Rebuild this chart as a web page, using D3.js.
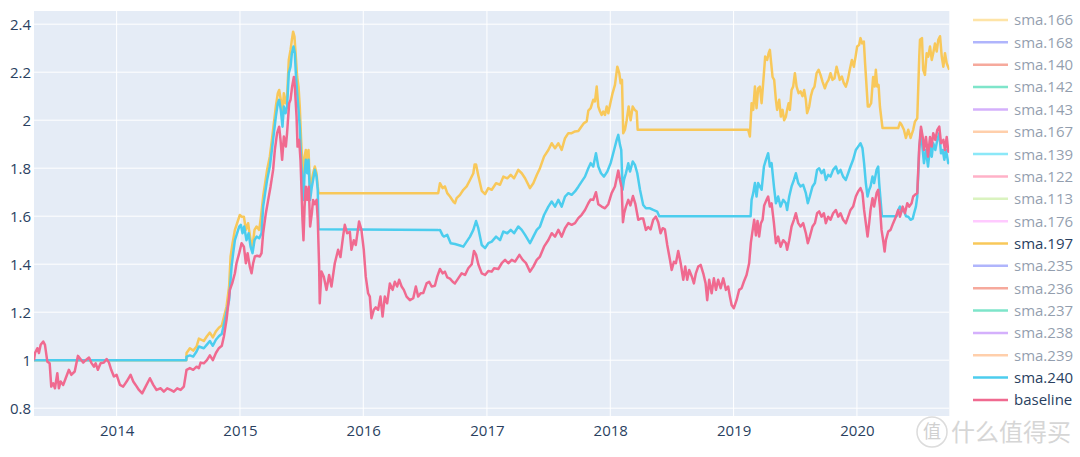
<!DOCTYPE html>
<html>
<head>
<meta charset="utf-8">
<script src="https://cdn.jsdelivr.net/npm/d3@7"></script>
<style>
  html, body { margin: 0; padding: 0; background: #ffffff; }
  svg { display: block; font-family: "Open Sans", "DejaVu Sans", Arial, sans-serif; }
</style>
</head>
<body>
<svg id="chart" width="1080" height="457"></svg>
<script>
// ---------------- DATA (time in decimal years, value = net value) ----------------
const legendNames = ["sma.166","sma.168","sma.140","sma.142","sma.143","sma.167","sma.139","sma.122","sma.113","sma.176","sma.197","sma.235","sma.236","sma.237","sma.238","sma.239","sma.240","baseline"];
const visibleNames = ["sma.197","sma.240","baseline"];
const yTickValues = [0.8,1,1.2,1.4,1.6,1.8,2,2.2,2.4];
const xTickYears = [2014,2015,2016,2017,2018,2019,2020];

const sma197 = [
[2013.330,1.000],[2014.565,1.000],[2014.567,1.03],[2014.594,1.05],[2014.621,1.04],[2014.648,1.057],[2014.667,1.09],[2014.707,1.08],
[2014.732,1.10],[2014.756,1.115],[2014.780,1.095],[2014.805,1.12],[2014.829,1.135],[2014.853,1.145],[2014.870,1.18],[2014.891,1.223],
[2014.912,1.307],[2014.924,1.432],[2014.940,1.4875],[2014.959,1.543],[2014.977,1.571],[2014.999,1.605],[2015.015,1.598],[2015.032,1.598],
[2015.048,1.543],[2015.066,1.571],[2015.086,1.50],[2015.102,1.473],[2015.118,1.543],[2015.135,1.557],[2015.156,1.543],[2015.169,1.592],
[2015.188,1.682],[2015.204,1.738],[2015.220,1.793],[2015.242,1.848],[2015.259,1.918],[2015.275,1.988],[2015.291,2.057],[2015.307,2.1125],
[2015.318,2.126],[2015.331,2.085],[2015.345,2.029],[2015.356,2.1125],[2015.370,2.071],[2015.382,2.099],[2015.396,2.251],[2015.410,2.293],
[2015.421,2.335],[2015.431,2.369],[2015.442,2.348],[2015.453,2.265],[2015.464,2.18],[2015.475,2.14],[2015.485,2.057],[2015.496,1.918],
[2015.507,1.807],[2015.515,1.751],[2015.524,1.848],[2015.534,1.876],[2015.545,1.807],[2015.556,1.876],[2015.569,1.71],[2015.583,1.751],
[2015.593,1.779],[2015.607,1.807],[2015.621,1.779],[2015.631,1.723],[2015.637,1.696],[2016.606,1.696],[2016.620,1.7375],[2016.642,1.717],
[2016.660,1.724],[2016.679,1.696],[2016.701,1.682],[2016.728,1.661],[2016.741,1.654],[2016.755,1.675],[2016.782,1.689],[2016.809,1.71],
[2016.836,1.724],[2016.863,1.751],[2016.890,1.779],[2016.900,1.815],[2016.912,1.815],[2016.930,1.77],[2016.958,1.706],[2016.985,1.692],
[2017.011,1.717],[2017.039,1.71],[2017.074,1.7375],[2017.106,1.731],[2017.133,1.765],[2017.165,1.758],[2017.193,1.772],[2017.220,1.758],
[2017.254,1.793],[2017.282,1.779],[2017.309,1.758],[2017.349,1.717],[2017.376,1.7375],[2017.404,1.772],[2017.430,1.80],[2017.463,1.848],
[2017.498,1.876],[2017.525,1.904],[2017.552,1.883],[2017.579,1.904],[2017.606,1.876],[2017.633,1.925],[2017.660,1.946],[2017.687,1.946],
[2017.714,1.953],[2017.741,1.955],[2017.768,1.975],[2017.787,1.988],[2017.809,1.995],[2017.822,2.04],[2017.841,2.05],[2017.862,2.085],
[2017.876,2.078],[2017.890,2.14],[2017.903,2.057],[2017.917,2.036],[2017.930,2.022],[2017.943,2.036],[2017.957,2.022],[2017.971,2.057],
[2017.984,2.029],[2017.998,2.064],[2018.019,2.113],[2018.038,2.147],[2018.057,2.223],[2018.073,2.196],[2018.084,2.154],[2018.095,2.168],
[2018.105,1.946],[2018.119,1.96],[2018.133,2.0],[2018.149,2.057],[2018.165,2.0],[2018.182,2.057],[2018.198,2.043],[2018.214,2.036],
[2018.222,1.96],[2019.118,1.96],[2019.132,1.932],[2019.146,2.071],[2019.159,2.043],[2019.173,2.14],[2019.186,2.05],[2019.199,2.133],
[2019.213,2.14],[2019.227,2.071],[2019.246,2.196],[2019.256,2.265],[2019.272,2.251],[2019.284,2.279],[2019.294,2.293],[2019.305,2.237],
[2019.316,2.18],[2019.329,2.168],[2019.343,2.085],[2019.353,2.043],[2019.370,2.085],[2019.383,2.015],[2019.397,2.043],[2019.410,2.0],
[2019.424,2.015],[2019.434,2.043],[2019.446,2.071],[2019.456,2.043],[2019.470,2.126],[2019.483,2.14],[2019.497,2.196],[2019.511,2.14],
[2019.527,2.1125],[2019.543,2.12],[2019.559,2.10],[2019.572,2.126],[2019.586,2.085],[2019.596,2.029],[2019.613,2.057],[2019.626,2.099],
[2019.640,2.126],[2019.656,2.14],[2019.673,2.196],[2019.689,2.21],[2019.705,2.189],[2019.721,2.161],[2019.740,2.133],[2019.754,2.154],
[2019.770,2.168],[2019.786,2.196],[2019.802,2.168],[2019.818,2.175],[2019.835,2.223],[2019.848,2.196],[2019.861,2.168],[2019.878,2.182],
[2019.894,2.154],[2019.910,2.14],[2019.926,2.168],[2019.942,2.21],[2019.959,2.251],[2019.975,2.223],[2019.989,2.265],[2020.002,2.307],
[2020.018,2.314],[2020.029,2.342],[2020.042,2.32],[2020.056,2.328],[2020.066,2.237],[2020.078,2.14],[2020.088,2.057],[2020.099,2.057],
[2020.115,2.071],[2020.131,2.18],[2020.143,2.14],[2020.153,2.21],[2020.164,2.14],[2020.175,2.147],[2020.186,2.057],[2020.199,2.0],
[2020.207,1.967],[2020.334,1.967],[2020.348,1.99],[2020.361,1.981],[2020.380,1.96],[2020.396,1.926],[2020.415,1.96],[2020.434,1.926],
[2020.455,1.96],[2020.469,1.994],[2020.488,2.008],[2020.504,2.265],[2020.510,2.335],[2020.526,2.342],[2020.536,2.21],[2020.550,2.189],
[2020.564,2.279],[2020.577,2.265],[2020.591,2.307],[2020.605,2.251],[2020.617,2.279],[2020.631,2.32],[2020.645,2.286],[2020.658,2.335],
[2020.672,2.35],[2020.686,2.265],[2020.699,2.223],[2020.712,2.279],[2020.726,2.237],[2020.747,2.21]
];

const sma240 = [
[2013.330,1.000],[2014.565,1.000],[2014.567,1.015],[2014.594,1.02],[2014.621,1.015],[2014.648,1.036],[2014.667,1.057],[2014.707,1.05],
[2014.732,1.065],[2014.756,1.08],[2014.780,1.06],[2014.805,1.085],[2014.829,1.10],[2014.853,1.11],[2014.870,1.15],[2014.891,1.20],
[2014.912,1.25],[2014.932,1.39],[2014.945,1.446],[2014.959,1.50],[2014.977,1.529],[2014.994,1.557],[2015.007,1.564],[2015.021,1.529],
[2015.034,1.557],[2015.053,1.50],[2015.070,1.529],[2015.086,1.473],[2015.102,1.446],[2015.118,1.50],[2015.135,1.515],[2015.156,1.508],
[2015.175,1.529],[2015.188,1.64],[2015.204,1.696],[2015.220,1.751],[2015.242,1.807],[2015.259,1.876],[2015.275,1.946],[2015.291,2.015],
[2015.307,2.071],[2015.318,2.085],[2015.331,2.043],[2015.345,1.973],[2015.356,2.057],[2015.370,2.029],[2015.382,2.057],[2015.396,2.196],
[2015.410,2.223],[2015.421,2.279],[2015.434,2.307],[2015.445,2.279],[2015.453,2.196],[2015.464,2.1125],[2015.475,2.043],[2015.485,1.973],
[2015.496,1.835],[2015.507,1.723],[2015.515,1.668],[2015.524,1.779],[2015.534,1.835],[2015.545,1.779],[2015.556,1.835],[2015.569,1.668],
[2015.583,1.723],[2015.593,1.751],[2015.607,1.793],[2015.621,1.765],[2015.631,1.71],[2015.637,1.546],[2016.606,1.542],[2016.620,1.543],
[2016.642,1.52],[2016.652,1.515],[2016.679,1.522],[2016.707,1.4875],[2016.741,1.484],[2016.782,1.478],[2016.809,1.473],[2016.836,1.494],
[2016.863,1.515],[2016.890,1.543],[2016.912,1.58],[2016.930,1.55],[2016.958,1.48],[2016.985,1.467],[2017.011,1.4875],[2017.039,1.494],
[2017.074,1.515],[2017.106,1.50],[2017.133,1.536],[2017.165,1.529],[2017.193,1.543],[2017.220,1.529],[2017.254,1.557],[2017.282,1.543],
[2017.309,1.522],[2017.349,1.4875],[2017.376,1.515],[2017.404,1.543],[2017.430,1.557],[2017.463,1.605],[2017.498,1.64],[2017.525,1.661],
[2017.552,1.64],[2017.579,1.668],[2017.606,1.64],[2017.633,1.682],[2017.660,1.696],[2017.687,1.689],[2017.714,1.703],[2017.741,1.723],
[2017.768,1.744],[2017.795,1.765],[2017.822,1.80],[2017.841,1.821],[2017.862,1.807],[2017.884,1.8625],[2017.903,1.807],[2017.925,1.779],
[2017.949,1.765],[2017.976,1.786],[2018.003,1.821],[2018.024,1.8625],[2018.052,1.918],[2018.065,1.939],[2018.079,1.897],[2018.089,1.876],
[2018.100,1.71],[2018.111,1.751],[2018.127,1.779],[2018.146,1.821],[2018.160,1.786],[2018.182,1.828],[2018.200,1.814],[2018.219,1.779],
[2018.241,1.71],[2018.267,1.647],[2018.289,1.633],[2018.322,1.633],[2018.348,1.626],[2018.381,1.619],[2018.397,1.60],[2019.138,1.60],
[2019.146,1.668],[2019.159,1.696],[2019.173,1.738],[2019.186,1.682],[2019.199,1.738],[2019.213,1.724],[2019.227,1.71],[2019.246,1.807],
[2019.262,1.835],[2019.280,1.8625],[2019.294,1.807],[2019.308,1.821],[2019.327,1.724],[2019.343,1.654],[2019.361,1.682],[2019.381,1.64],
[2019.402,1.668],[2019.424,1.654],[2019.434,1.626],[2019.451,1.682],[2019.470,1.724],[2019.489,1.751],[2019.505,1.779],[2019.524,1.738],
[2019.543,1.724],[2019.564,1.731],[2019.586,1.696],[2019.602,1.654],[2019.618,1.682],[2019.640,1.724],[2019.659,1.738],[2019.677,1.793],
[2019.694,1.80],[2019.713,1.779],[2019.732,1.793],[2019.748,1.751],[2019.767,1.772],[2019.786,1.765],[2019.807,1.793],[2019.829,1.807],
[2019.848,1.779],[2019.867,1.793],[2019.888,1.765],[2019.910,1.751],[2019.929,1.779],[2019.948,1.807],[2019.969,1.835],[2019.991,1.876],
[2020.010,1.89],[2020.029,1.904],[2020.045,1.883],[2020.058,1.821],[2020.072,1.738],[2020.086,1.682],[2020.099,1.71],[2020.110,1.724],
[2020.126,1.765],[2020.139,1.738],[2020.159,1.793],[2020.172,1.807],[2020.180,1.738],[2020.191,1.668],[2020.202,1.60],[2020.321,1.60],
[2020.334,1.626],[2020.348,1.64],[2020.361,1.62],[2020.380,1.626],[2020.396,1.60],[2020.415,1.598],[2020.434,1.585],[2020.451,1.59],
[2020.461,1.61],[2020.477,1.64],[2020.488,1.682],[2020.504,1.876],[2020.518,1.96],[2020.532,1.876],[2020.542,1.821],[2020.558,1.876],
[2020.575,1.807],[2020.591,1.89],[2020.605,1.848],[2020.617,1.904],[2020.634,1.876],[2020.650,1.918],[2020.666,1.946],[2020.680,1.862],
[2020.694,1.876],[2020.707,1.835],[2020.720,1.876],[2020.739,1.821],[2020.747,1.82]
];

const baseline = [
[2013.330,1.000],[2013.338,1.03],[2013.357,1.05],[2013.370,1.03],[2013.384,1.064],[2013.405,1.078],[2013.419,1.064],[2013.438,0.994],
[2013.457,0.987],[2013.470,0.89],[2013.486,0.904],[2013.500,0.883],[2013.519,0.946],[2013.532,0.883],[2013.546,0.911],[2013.567,0.897],
[2013.587,0.925],[2013.613,0.96],[2013.632,0.939],[2013.660,0.953],[2013.686,1.018],[2013.708,1.004],[2013.729,0.99],[2013.749,1.0],
[2013.776,1.011],[2013.794,0.99],[2013.816,0.973],[2013.830,0.987],[2013.848,0.96],[2013.870,0.987],[2013.897,0.99],[2013.919,1.005],
[2013.938,0.99],[2013.956,0.96],[2013.978,0.932],[2014.000,0.939],[2014.027,0.897],[2014.053,0.89],[2014.081,0.911],[2014.113,0.939],
[2014.135,0.911],[2014.154,0.897],[2014.181,0.876],[2014.207,0.862],[2014.235,0.89],[2014.270,0.925],[2014.297,0.897],[2014.324,0.876],
[2014.357,0.883],[2014.383,0.869],[2014.410,0.883],[2014.438,0.876],[2014.464,0.869],[2014.491,0.883],[2014.519,0.876],[2014.545,0.89],
[2014.567,0.96],[2014.594,0.967],[2014.621,0.96],[2014.648,0.973],[2014.667,0.967],[2014.681,0.99],[2014.707,0.987],[2014.732,1.0],
[2014.756,1.02],[2014.780,1.0],[2014.805,1.03],[2014.829,1.05],[2014.853,1.06],[2014.870,1.10],[2014.891,1.168],[2014.918,1.293],
[2014.937,1.32],[2014.959,1.3625],[2014.972,1.404],[2014.994,1.446],[2015.013,1.4875],[2015.032,1.473],[2015.048,1.404],[2015.062,1.446],
[2015.080,1.39],[2015.094,1.3625],[2015.107,1.404],[2015.121,1.432],[2015.139,1.435],[2015.161,1.432],[2015.175,1.446],[2015.188,1.529],
[2015.210,1.6125],[2015.229,1.668],[2015.248,1.723],[2015.269,1.793],[2015.283,1.876],[2015.301,1.946],[2015.318,1.973],[2015.329,1.918],
[2015.342,1.835],[2015.356,1.932],[2015.372,1.89],[2015.382,1.946],[2015.399,2.071],[2015.410,2.085],[2015.423,2.14],[2015.437,2.18],
[2015.445,2.14],[2015.459,2.015],[2015.467,1.89],[2015.480,1.918],[2015.491,1.835],[2015.499,1.71],[2015.507,1.585],[2015.515,1.50],
[2015.524,1.64],[2015.534,1.723],[2015.545,1.668],[2015.558,1.723],[2015.569,1.557],[2015.583,1.6125],[2015.593,1.668],[2015.607,1.65],
[2015.621,1.668],[2015.631,1.585],[2015.642,1.39],[2015.647,1.2375],[2015.661,1.37],[2015.680,1.348],[2015.702,1.293],[2015.723,1.355],
[2015.742,1.307],[2015.769,1.404],[2015.796,1.46],[2015.815,1.43],[2015.836,1.515],[2015.850,1.564],[2015.869,1.529],[2015.891,1.535],
[2015.904,1.46],[2015.923,1.50],[2015.939,1.48],[2015.966,1.578],[2015.985,1.543],[2016.004,1.46],[2016.020,1.348],[2016.039,1.279],
[2016.053,1.265],[2016.066,1.175],[2016.085,1.21],[2016.101,1.22],[2016.120,1.21],[2016.139,1.265],[2016.156,1.182],[2016.174,1.265],
[2016.193,1.237],[2016.215,1.32],[2016.237,1.293],[2016.255,1.327],[2016.274,1.307],[2016.290,1.335],[2016.310,1.307],[2016.328,1.293],
[2016.350,1.265],[2016.377,1.25],[2016.404,1.258],[2016.425,1.307],[2016.444,1.265],[2016.464,1.279],[2016.485,1.28],[2016.512,1.32],
[2016.533,1.327],[2016.553,1.307],[2016.579,1.31],[2016.598,1.348],[2016.620,1.38],[2016.642,1.362],[2016.660,1.369],[2016.679,1.345],
[2016.701,1.34],[2016.723,1.327],[2016.741,1.32],[2016.768,1.341],[2016.796,1.362],[2016.823,1.355],[2016.849,1.383],[2016.877,1.40],
[2016.895,1.455],[2016.912,1.44],[2016.930,1.40],[2016.958,1.362],[2016.985,1.355],[2017.011,1.372],[2017.039,1.369],[2017.058,1.383],
[2017.092,1.38],[2017.120,1.404],[2017.147,1.418],[2017.173,1.404],[2017.201,1.418],[2017.228,1.411],[2017.263,1.439],[2017.290,1.418],
[2017.317,1.404],[2017.349,1.369],[2017.376,1.39],[2017.404,1.418],[2017.430,1.432],[2017.463,1.473],[2017.498,1.501],[2017.525,1.529],
[2017.552,1.515],[2017.579,1.543],[2017.606,1.515],[2017.633,1.55],[2017.660,1.571],[2017.687,1.564],[2017.714,1.571],[2017.741,1.592],
[2017.768,1.606],[2017.795,1.626],[2017.822,1.654],[2017.841,1.67],[2017.862,1.668],[2017.884,1.70],[2017.903,1.65],[2017.930,1.64],
[2017.957,1.633],[2017.984,1.65],[2018.011,1.696],[2018.038,1.724],[2018.065,1.79],[2018.079,1.751],[2018.092,1.72],[2018.103,1.575],
[2018.113,1.613],[2018.127,1.64],[2018.146,1.668],[2018.163,1.645],[2018.184,1.684],[2018.204,1.65],[2018.227,1.585],[2018.246,1.59],
[2018.267,1.59],[2018.289,1.543],[2018.308,1.555],[2018.327,1.545],[2018.348,1.585],[2018.370,1.598],[2018.389,1.575],[2018.408,1.529],
[2018.425,1.55],[2018.443,1.545],[2018.462,1.48],[2018.484,1.418],[2018.498,1.376],[2018.516,1.41],[2018.532,1.404],[2018.551,1.455],
[2018.571,1.404],[2018.592,1.335],[2018.608,1.39],[2018.624,1.335],[2018.640,1.376],[2018.660,1.35],[2018.678,1.32],[2018.694,1.362],
[2018.713,1.39],[2018.733,1.397],[2018.754,1.362],[2018.773,1.32],[2018.786,1.25],[2018.802,1.335],[2018.822,1.279],[2018.840,1.341],
[2018.857,1.293],[2018.875,1.335],[2018.895,1.30],[2018.916,1.341],[2018.938,1.293],[2018.956,1.307],[2018.970,1.265],[2018.984,1.23],
[2019.002,1.2167],[2019.024,1.25],[2019.045,1.293],[2019.065,1.30],[2019.083,1.327],[2019.105,1.355],[2019.126,1.404],[2019.140,1.49],
[2019.154,1.54],[2019.167,1.585],[2019.181,1.52],[2019.194,1.58],[2019.207,1.515],[2019.221,1.57],[2019.235,1.585],[2019.248,1.645],
[2019.267,1.668],[2019.280,1.682],[2019.294,1.64],[2019.308,1.654],[2019.327,1.571],[2019.343,1.4875],[2019.361,1.515],[2019.381,1.473],
[2019.402,1.50],[2019.424,1.4875],[2019.434,1.46],[2019.451,1.50],[2019.470,1.557],[2019.489,1.585],[2019.505,1.6125],[2019.524,1.571],
[2019.543,1.557],[2019.564,1.571],[2019.586,1.529],[2019.602,1.4875],[2019.618,1.515],[2019.640,1.557],[2019.659,1.571],[2019.677,1.6125],
[2019.694,1.62],[2019.713,1.598],[2019.732,1.6125],[2019.748,1.571],[2019.767,1.598],[2019.786,1.585],[2019.807,1.6125],[2019.829,1.626],
[2019.848,1.598],[2019.867,1.6125],[2019.888,1.585],[2019.910,1.571],[2019.929,1.598],[2019.948,1.626],[2019.969,1.64],[2019.991,1.682],
[2020.010,1.703],[2020.029,1.717],[2020.045,1.696],[2020.058,1.626],[2020.072,1.571],[2020.086,1.515],[2020.099,1.571],[2020.110,1.626],
[2020.126,1.675],[2020.139,1.64],[2020.159,1.696],[2020.172,1.71],[2020.186,1.64],[2020.199,1.543],[2020.212,1.50],[2020.224,1.4525],
[2020.234,1.50],[2020.253,1.536],[2020.272,1.543],[2020.293,1.571],[2020.315,1.598],[2020.334,1.626],[2020.348,1.598],[2020.370,1.64],
[2020.388,1.6125],[2020.407,1.654],[2020.423,1.64],[2020.442,1.654],[2020.455,1.682],[2020.469,1.689],[2020.488,1.696],[2020.504,1.89],
[2020.518,1.973],[2020.532,1.93],[2020.542,1.876],[2020.558,1.93],[2020.575,1.848],[2020.591,1.93],[2020.605,1.89],[2020.617,1.946],
[2020.634,1.918],[2020.650,1.96],[2020.666,1.973],[2020.680,1.904],[2020.699,1.918],[2020.712,1.876],[2020.726,1.93],[2020.739,1.869],
[2020.747,1.87]
];

// ---------------- STYLE / LAYOUT ----------------
const legendColor = {
  "sma.166":"#FECB52","sma.168":"#636efa","sma.140":"#EF553B","sma.142":"#00cc96","sma.143":"#ab63fa",
  "sma.167":"#FFA15A","sma.139":"#19d3f3","sma.122":"#FF6692","sma.113":"#B6E880","sma.176":"#FF97FF",
  "sma.197":"#F8C85A","sma.235":"#636efa","sma.236":"#EF553B","sma.237":"#00cc96","sma.238":"#ab63fa",
  "sma.239":"#FFA15A","sma.240":"#4ccdee","baseline":"#F06A90"
};
const plot = { left: 34, right: 949.3, top: 11, bottom: 416 };

function decYear(y) {
  const yr = Math.floor(y);
  const a = Date.UTC(yr, 0, 1), b = Date.UTC(yr + 1, 0, 1);
  return new Date(a + (y - yr) * (b - a));
}

const svg = d3.select("#chart");
const allT = [].concat(sma197, sma240, baseline).map(d => d[0]);
const x = d3.scaleUtc()
  .domain([decYear(d3.min(allT)), decYear(d3.max(allT))])
  .range([plot.left, plot.right]);
const y = d3.scaleLinear()
  .domain([0.7675, 2.455])
  .range([plot.bottom, plot.top]);

// plot background
svg.append("rect")
  .attr("x", plot.left).attr("y", plot.top)
  .attr("width", plot.right - plot.left).attr("height", plot.bottom - plot.top)
  .attr("fill", "#e5ecf6");

// gridlines
const xTicks = xTickYears.map(yr => new Date(Date.UTC(yr, 0, 1)));
svg.append("g").selectAll("line").data(xTicks).join("line")
  .attr("x1", d => x(d)).attr("x2", d => x(d))
  .attr("y1", plot.top).attr("y2", plot.bottom)
  .attr("stroke", "#ffffff").attr("stroke-width", 1);
svg.append("g").selectAll("line").data(yTickValues).join("line")
  .attr("x1", plot.left).attr("x2", plot.right)
  .attr("y1", d => y(d)).attr("y2", d => y(d))
  .attr("stroke", "#ffffff").attr("stroke-width", 1);

// axes (text only, plotly style)
const xAxis = d3.axisBottom(x).tickValues(xTicks).tickFormat(d3.utcFormat("%Y")).tickSize(0).tickPadding(9);
const gx = svg.append("g").attr("transform", `translate(0,${plot.bottom})`).call(xAxis);
gx.select(".domain").remove();
gx.selectAll("text").attr("font-size", 15).attr("fill", "#2a3f5f")
  .attr("font-family", "'Open Sans', 'DejaVu Sans', sans-serif");

const yAxis = d3.axisLeft(y).tickValues(yTickValues).tickFormat(d3.format("~g")).tickSize(0).tickPadding(3);
const gy = svg.append("g").attr("transform", `translate(${plot.left},0)`).call(yAxis);
gy.select(".domain").remove();
gy.selectAll("text").attr("font-size", 15).attr("fill", "#2a3f5f")
  .attr("font-family", "'Open Sans', 'DejaVu Sans', sans-serif");

// clip
svg.append("clipPath").attr("id", "clip").append("rect")
  .attr("x", plot.left).attr("y", plot.top)
  .attr("width", plot.right - plot.left).attr("height", plot.bottom - plot.top);

const line = d3.line().x(d => x(decYear(d[0]))).y(d => y(d[1]));
const series = [
  { name: "sma.197", data: sma197 },
  { name: "sma.240", data: sma240 },
  { name: "baseline", data: baseline }
];
const gl = svg.append("g").attr("clip-path", "url(#clip)");
series.forEach(s => {
  gl.append("path")
    .datum(s.data)
    .attr("d", line)
    .attr("fill", "none")
    .attr("stroke", legendColor[s.name])
    .attr("stroke-width", 2.5)
    .attr("stroke-linejoin", "round");
});

// legend
const lg = svg.append("g");
legendNames.forEach((n, i) => {
  const cy = 20 + i * 22.35;
  const vis = visibleNames.includes(n);
  const item = lg.append("g").attr("opacity", vis ? 1 : 0.5);
  item.append("line")
    .attr("x1", 973).attr("x2", 1008).attr("y1", cy).attr("y2", cy)
    .attr("stroke", legendColor[n]).attr("stroke-width", 2.5);
  item.append("text")
    .attr("x", 1014).attr("y", cy).attr("dy", "0.36em")
    .attr("font-size", 15).attr("fill", "#2a3f5f")
    .attr("font-family", "'Open Sans', 'DejaVu Sans', sans-serif")
    .text(n);
});

// watermark
const wm = svg.append("g").attr("opacity", 0.85);
wm.append("circle").attr("cx", 932).attr("cy", 432).attr("r", 15)
  .attr("fill", "#ffffff").attr("stroke", "#d6d6d6").attr("stroke-width", 1.5);
wm.append("text").attr("x", 932).attr("y", 432).attr("dy", "0.36em")
  .attr("text-anchor", "middle").attr("font-size", 18).attr("fill", "#c8c8c8")
  .attr("font-family", "'Noto Sans CJK SC', sans-serif").text("值");
wm.append("text").attr("x", 951).attr("y", 432).attr("dy", "0.36em")
  .attr("font-size", 24).attr("fill", "#cfcfcf")
  .attr("font-family", "'Noto Sans CJK SC', sans-serif").text("什么值得买");
</script>
</body>
</html>
